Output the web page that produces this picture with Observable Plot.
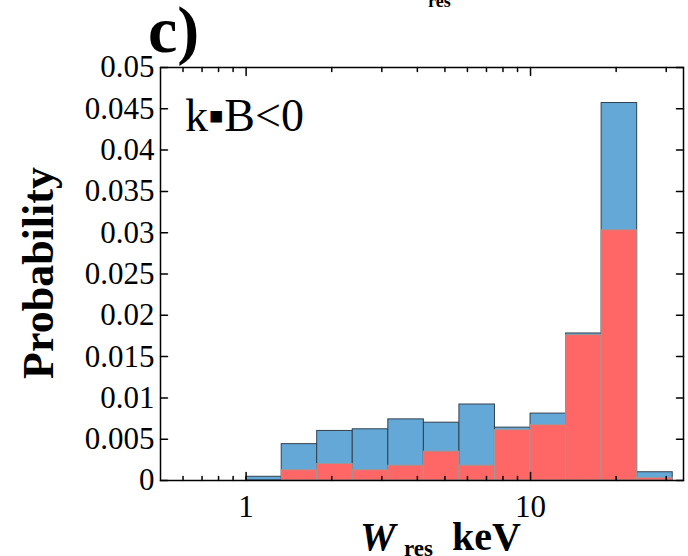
<!DOCTYPE html>
<html><head><meta charset="utf-8">
<script src="https://cdn.jsdelivr.net/npm/d3@7"></script>
<script src="https://cdn.jsdelivr.net/npm/@observablehq/plot@0.6"></script>
<style>body{margin:0;background:#fff}</style>
</head><body><div id="chart"></div>
<script>
// Bin edges (keV), log-spaced
const binEdges = [1, 1.334, 1.778, 2.371, 3.162, 4.217, 5.623, 7.499, 10, 13.34, 17.78, 23.71, 31.62];
// Probability per bin
const blueValues = [0.00045, 0.0044, 0.0060, 0.0062, 0.0074, 0.0070, 0.0092, 0.0064, 0.0081, 0.0178, 0.0457, 0.0010];
const redValues  = [0, 0.00125, 0.0020, 0.00125, 0.0018, 0.0035, 0.0018, 0.0061, 0.0067, 0.0176, 0.0303, 0.0003];
const yTicks = [0, 0.005, 0.01, 0.015, 0.02, 0.025, 0.03, 0.035, 0.04, 0.045, 0.05];
const xMajorTicks = [1, 10];
const xMinorTicks = [0.6, 0.7, 0.8, 0.9, 2, 3, 4, 5, 6, 7, 8, 9, 20, 30];

const bins = blueValues.map((v, i) => ({x1: binEdges[i], x2: binEdges[i + 1], blue: v, red: redValues[i]}));

const tickShape = {draw(ctx, l) { ctx.moveTo(0, 0); ctx.lineTo(0, -l); }};
const ticks = (data, opts) => Plot.vector(data, {anchor: "start", shape: tickShape, stroke: "black", strokeWidth: 1.5, ...opts});

const chart = Plot.plot({
  width: 688, height: 556,
  marginLeft: 160, marginRight: 5, marginTop: 67, marginBottom: 76,
  style: {fontFamily: "'Liberation Serif', serif", fontSize: "31px", color: "black", background: "white"},
  x: {type: "log", domain: [0.5, 34.5]},
  y: {domain: [0, 0.05]},
  marks: [
    Plot.rectY(bins, {x1: "x1", x2: "x2", y: "blue", fill: "#64a8d7", stroke: "#33404d", strokeWidth: 1}),
    Plot.rectY(bins.filter(d => d.red > 0), {x1: "x1", x2: "x2", y: "red", fill: "#ff6666", stroke: "#9a9a9a", strokeWidth: 1}),
    Plot.frame({stroke: "black", strokeWidth: 1.5}),
    Plot.axisX({ticks: xMajorTicks, tickFormat: d => String(d), tickSize: 0, tickPadding: 14, label: null, fontSize: 31}),
    Plot.axisY({ticks: yTicks, tickFormat: d => String(d), tickSize: 0, tickPadding: 6, label: null, fontSize: 31}),
    ticks(xMajorTicks, {x: d => d, frameAnchor: "bottom", length: 8, rotate: 0}),
    ticks(xMinorTicks, {x: d => d, frameAnchor: "bottom", length: 4, rotate: 0}),
    ticks(xMajorTicks, {x: d => d, frameAnchor: "top", length: 8, rotate: 180}),
    ticks(xMinorTicks, {x: d => d, frameAnchor: "top", length: 4, rotate: 180}),
    ticks(yTicks, {y: d => d, frameAnchor: "left", length: 7, rotate: 90}),
    ticks(yTicks, {y: d => d, frameAnchor: "right", length: 7, rotate: -90})
  ]
});

const svg = d3.select(chart);
svg.style("overflow", "hidden");
const font = "'Liberation Serif', serif";
// Y label
svg.append("text").attr("transform", "translate(53,273) rotate(-90)")
  .attr("text-anchor", "middle").attr("font-weight", "bold").attr("font-size", 44)
  .attr("font-family", font).text("Probability");
// X label
const xl = svg.append("text").attr("x", 360).attr("y", 550).attr("text-anchor", "start")
  .attr("font-weight", "bold").attr("font-size", 40).attr("font-family", font);
xl.append("tspan").attr("font-style", "italic").text("W");
xl.append("tspan").attr("x", 404).attr("font-size", 23).attr("dy", 6).text("res");
xl.append("tspan").attr("x", 452).attr("dy", -6).text("keV");
// Panel label
svg.append("text").attr("x", 148).attr("y", 52).attr("text-anchor", "start").attr("font-weight", "bold")
  .attr("font-size", 66).attr("font-family", font).text("c)");
// Annotation
svg.append("text").attr("x", 185).attr("y", 131).attr("text-anchor", "start").attr("font-size", 46)
  .attr("font-family", font).text("k▪B<0");
// Clipped fragment from the panel above
svg.append("text").attr("x", 428).attr("y", 7).attr("text-anchor", "start").attr("font-weight", "bold")
  .attr("font-size", 18).attr("font-family", font).text("res");

document.getElementById("chart").append(chart);
</script>
</body></html>
